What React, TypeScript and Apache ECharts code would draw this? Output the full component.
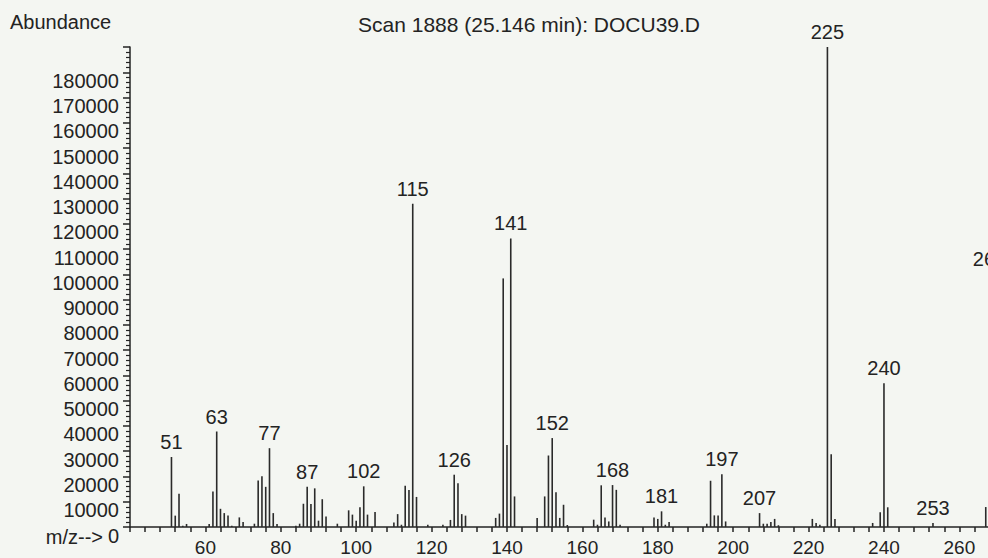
import React, { useEffect, useRef } from "react";
import * as echarts from "echarts";

// m/z values of the peaks
const MZ = [
  51, 52, 53, 54, 55, 61, 62, 63, 64, 65, 66, 67, 69, 70, 73, 74, 75, 76, 77, 78, 79,
  84, 85, 86, 87, 88, 89, 90, 91, 92, 95, 98, 99, 100, 101, 102, 103, 105,
  110, 111, 112, 113, 114, 115, 116, 119, 123, 125, 126, 127, 128, 129,
  137, 138, 139, 140, 141, 142, 148, 150, 151, 152, 153, 154, 155, 156,
  163, 164, 165, 166, 167, 168, 169, 170, 179, 180, 181, 182, 183,
  193, 194, 195, 196, 197, 198, 207, 208, 209, 210, 211, 212,
  221, 222, 223, 225, 226, 227, 237, 239, 240, 241, 253, 267, 268,
];
// abundance of each peak
const ABUNDANCE = [
  27700, 4500, 13200, 500, 1200, 1200, 14100, 37800, 7200, 5500, 4600, 500, 3800, 2000, 1300, 18400, 20100, 15900, 31200, 5500, 1200,
  500, 1300, 9200, 15900, 9100, 15300, 2500, 11000, 4200, 1300, 6600, 4900, 2500, 7800, 16100, 4900, 5900,
  1800, 5100, 900, 16300, 14600, 128000, 11900, 900, 900, 2800, 20700, 17300, 5100, 4500,
  3600, 5300, 98400, 32500, 114200, 12100, 3600, 12100, 28300, 35200, 13800, 3600, 8800, 800,
  2900, 900, 16500, 3800, 2200, 16600, 14700, 900, 3800, 3200, 6200, 900, 2000,
  1300, 18300, 4600, 4600, 20900, 2200, 5500, 1300, 1300, 2000, 3200, 700,
  3200, 1600, 900, 190000, 28800, 3200, 1600, 5800, 56900, 7800, 1600, 7900, 100000,
];
// peaks that carry an m/z label
const LABELED = [51, 63, 77, 87, 102, 115, 126, 141, 152, 168, 181, 197, 207, 225, 240, 253, 268];
// x-axis tick labels
const X_LABELS = [60, 80, 100, 120, 140, 160, 180, 200, 220, 240, 260];

const TITLE = "Scan 1888 (25.146 min): DOCU39.D";
const FONT = "'Liberation Sans', Arial, sans-serif";
const INK = "#232323";

export default function App() {
  const ref = useRef<HTMLDivElement>(null);
  useEffect(() => {
    if (!ref.current) return;
    const chart = echarts.init(ref.current, null, { renderer: "svg" });
    const data = MZ.map((m, i) => [m, ABUNDANCE[i]]);
    chart.setOption({
      animation: false,
      backgroundColor: "#f4f6f2",
      textStyle: { fontFamily: FONT },
      grid: {
        left: 130,
        top: 47,
        width: 874.6,
        height: 480,
        containLabel: false,
        outerBoundsMode: "none",
      },
      graphic: [
        {
          type: "text",
          left: 10,
          top: 12,
          style: { text: "Abundance", fontSize: 20, fontFamily: FONT, fill: INK },
        },
        {
          type: "text",
          x: 529,
          y: 24,
          style: {
            text: TITLE,
            fontSize: 21,
            fontFamily: FONT,
            fill: INK,
            textAlign: "center",
            textVerticalAlign: "middle",
          },
        },
        {
          type: "text",
          x: 103,
          y: 537,
          style: {
            text: "m/z-->",
            fontSize: 20,
            fontFamily: FONT,
            fill: INK,
            textAlign: "right",
            textVerticalAlign: "middle",
          },
        },
      ],
      xAxis: {
        type: "value",
        min: 40,
        max: 272,
        interval: 4,
        splitLine: { show: false },
        axisLine: { show: true, onZero: false, lineStyle: { color: INK, width: 1.5 } },
        axisTick: { show: true, length: 5, lineStyle: { color: INK, width: 1.5 } },
        axisLabel: {
          fontSize: 19,
          color: INK,
          margin: 11,
          fontFamily: FONT,
          formatter: (v: number) => (X_LABELS.includes(v) ? String(v) : ""),
        },
      },
      yAxis: {
        type: "value",
        min: 0,
        max: 190000,
        interval: 10000,
        splitLine: { show: false },
        axisLine: { show: true, lineStyle: { color: INK, width: 1.5 } },
        axisTick: { show: true, length: 7, lineStyle: { color: INK, width: 1.5 } },
        minorTick: { show: true, splitNumber: 5, length: 4, lineStyle: { color: INK, width: 1.2 } },
        axisLabel: {
          fontSize: 20,
          color: INK,
          margin: 11,
          fontFamily: FONT,
          verticalAlign: "top",
          lineHeight: 17,
          formatter: (v: number) => (v >= 190000 ? "" : String(v)),
        },
      },
      series: [
        {
          type: "custom",
          data,
          clip: false,
          renderItem: (params: any, api: any) => {
            const x = api.value(0);
            const y = api.value(1);
            const p0 = api.coord([x, 0]);
            const p1 = api.coord([x, y]);
            const children: any[] = [
              {
                type: "rect",
                shape: { x: p0[0] - 0.8, y: p1[1], width: 1.6, height: p0[1] - p1[1] },
                style: { fill: "#2a2a2a" },
              },
            ];
            if (LABELED.includes(x)) {
              children.push({
                type: "text",
                style: {
                  text: String(x),
                  x: p1[0],
                  y: p1[1] - 5,
                  textAlign: "center",
                  textVerticalAlign: "bottom",
                  fontSize: 20,
                  fontFamily: FONT,
                  fill: INK,
                },
              });
            }
            return { type: "group", children };
          },
        },
      ],
    });
    return () => chart.dispose();
  }, []);
  return (
    <div
      ref={ref}
      style={{ position: "absolute", left: 0, top: 0, width: 988, height: 558 }}
    />
  );
}
